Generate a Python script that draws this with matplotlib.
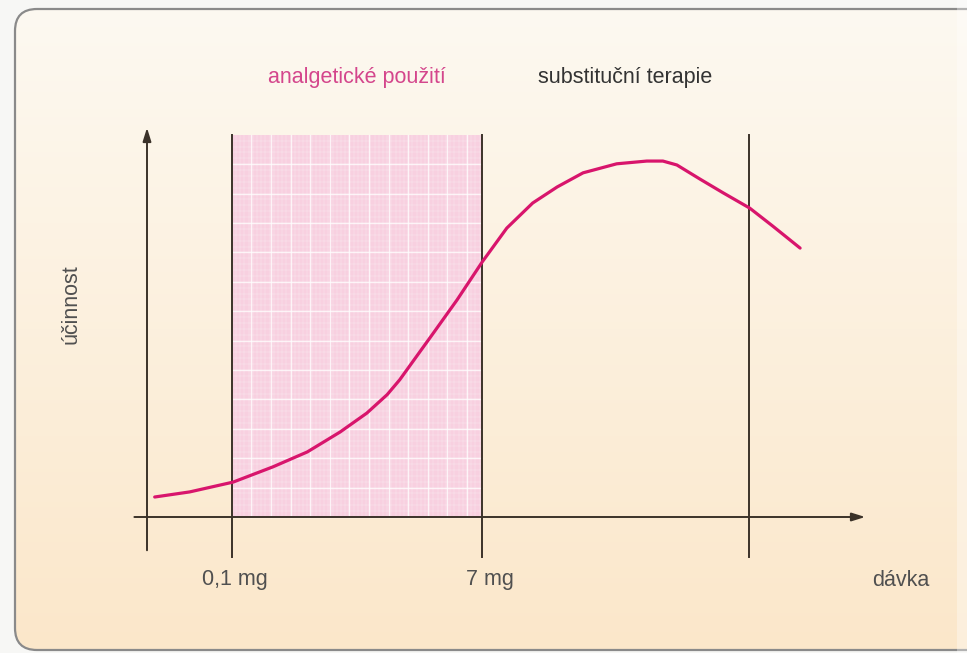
import matplotlib
matplotlib.use('Agg')
import matplotlib.pyplot as plt
import numpy as np
from matplotlib.patches import FancyBboxPatch, Rectangle

plt.rcParams['font.family'] = ['Liberation Sans', 'DejaVu Sans']

# data (dose position, efficacy)
dose = [0.11, 0.61, 1.23, 1.80, 2.29, 2.76, 3.14, 3.43, 3.61, 3.86, 4.09, 4.43,
        4.79, 5.14, 5.51, 5.86, 6.23, 6.71, 7.14, 7.37, 7.57, 7.90, 8.23, 8.61,
        8.94, 9.33]
efficacy = [0.51, 0.64, 0.89, 1.28, 1.66, 2.17, 2.65, 3.12, 3.50, 4.12, 4.69, 5.54,
            6.51, 7.37, 8.01, 8.42, 8.78, 9.01, 9.08, 9.08, 8.98, 8.62, 8.27, 7.88,
            7.42, 6.86]
boundaries = [1.21, 4.79, 8.6]
tick_labels = ['0,1 mg', '7 mg']
zones = ['analgetické použití', 'substituční terapie']

W, H = 967, 653
fig = plt.figure(figsize=(W / 100, H / 100), dpi=100)
fig.patch.set_facecolor('#f7f7f5')

# background axes in pixel units
bg = fig.add_axes([0, 0, 1, 1])
bg.set_xlim(0, W)
bg.set_ylim(H, 0)
bg.axis('off')

box = FancyBboxPatch((15, 9), 1000, 641, boxstyle="round,pad=0,rounding_size=22",
                     facecolor='none', edgecolor='#8a8a8a', linewidth=1.6, zorder=3)
bg.add_patch(box)
grad = np.linspace(0, 1, 256)[:, None]
top = np.array([253, 249, 241]) / 255
bot = np.array([251, 231, 202]) / 255
img = top + (bot - top) * grad[..., None]
im = bg.imshow(img, extent=(15, 1015, 650, 9), aspect='auto', zorder=1)
im.set_clip_path(box)
bg.add_patch(Rectangle((957, 0), 12, H, facecolor='white', alpha=0.35, edgecolor='none', zorder=4))

# chart axes: x 0 at px 147 (70 px/unit), y 0 at px 517 (39.2 px/unit)
l, r, t, b = 125, 875, 115, 565
ax = fig.add_axes([l / W, (H - b) / H, (r - l) / W, (b - t) / H])
ax.set_xlim((l - 147) / 70, (r - 147) / 70)
ax.set_ylim((517 - b) / 39.2, (517 - t) / 39.2)
ax.axis('off')
ax.patch.set_alpha(0)

# pink zone with grid
x0, x1 = boundaries[0], boundaries[1]
ytop = 9.74
ax.add_patch(Rectangle((x0, 0), x1 - x0, ytop, facecolor='#f8d0e0', edgecolor='none', zorder=1))
for gx in np.arange(x0, x1, 0.06):
    ax.plot([gx, gx], [0, ytop], color='white', lw=0.35, alpha=0.5, zorder=2)
for gy in np.arange(0, ytop, 0.15):
    ax.plot([x0, x1], [gy, gy], color='white', lw=0.35, alpha=0.5, zorder=2)
for gx in np.arange(x0 + 0.28, x1, 0.28):
    ax.plot([gx, gx], [0, ytop], color='white', lw=1.0, alpha=0.75, zorder=2)
for gy in np.arange(0.0, ytop, 0.75):
    ax.plot([x0, x1], [gy, gy], color='white', lw=1.0, alpha=0.75, zorder=2)

lc = '#3b3229'
# axes arrows
ax.annotate('', xy=(10.3, 0), xytext=(-0.22, 0),
            arrowprops=dict(arrowstyle='-|>,head_length=0.8,head_width=0.25', color=lc, lw=1.4), zorder=5)
ax.annotate('', xy=(0, 10.0), xytext=(0, -0.92),
            arrowprops=dict(arrowstyle='-|>,head_length=0.8,head_width=0.25', color=lc, lw=1.4), zorder=5)
for bx in boundaries:
    ax.plot([bx, bx], [-1.02, ytop], color=lc, lw=1.4, zorder=5)

ax.plot(dose, efficacy, color='#d8156c', lw=2.3, solid_joinstyle='round',
        solid_capstyle='round', zorder=6)

# texts
tc = '#505050'
fs = 15.5
bg.text(357, 77, zones[0], color='#d4468c', fontsize=fs, ha='center', va='center', zorder=4)
bg.text(625, 77, zones[1], color='#333333', fontsize=fs, ha='center', va='center', zorder=4)
bg.text(71, 304, 'účinnost', color=tc, fontsize=fs, rotation=90, ha='center', va='center', zorder=4)
bg.text(235, 580, tick_labels[0], color=tc, fontsize=fs, ha='center', va='center', zorder=4)
bg.text(490, 580, tick_labels[1], color=tc, fontsize=fs, ha='center', va='center', zorder=4)
bg.text(901, 580, 'dávka', color=tc, fontsize=fs, ha='center', va='center', zorder=4)

plt.savefig('out.png', dpi=100, facecolor=fig.get_facecolor())
